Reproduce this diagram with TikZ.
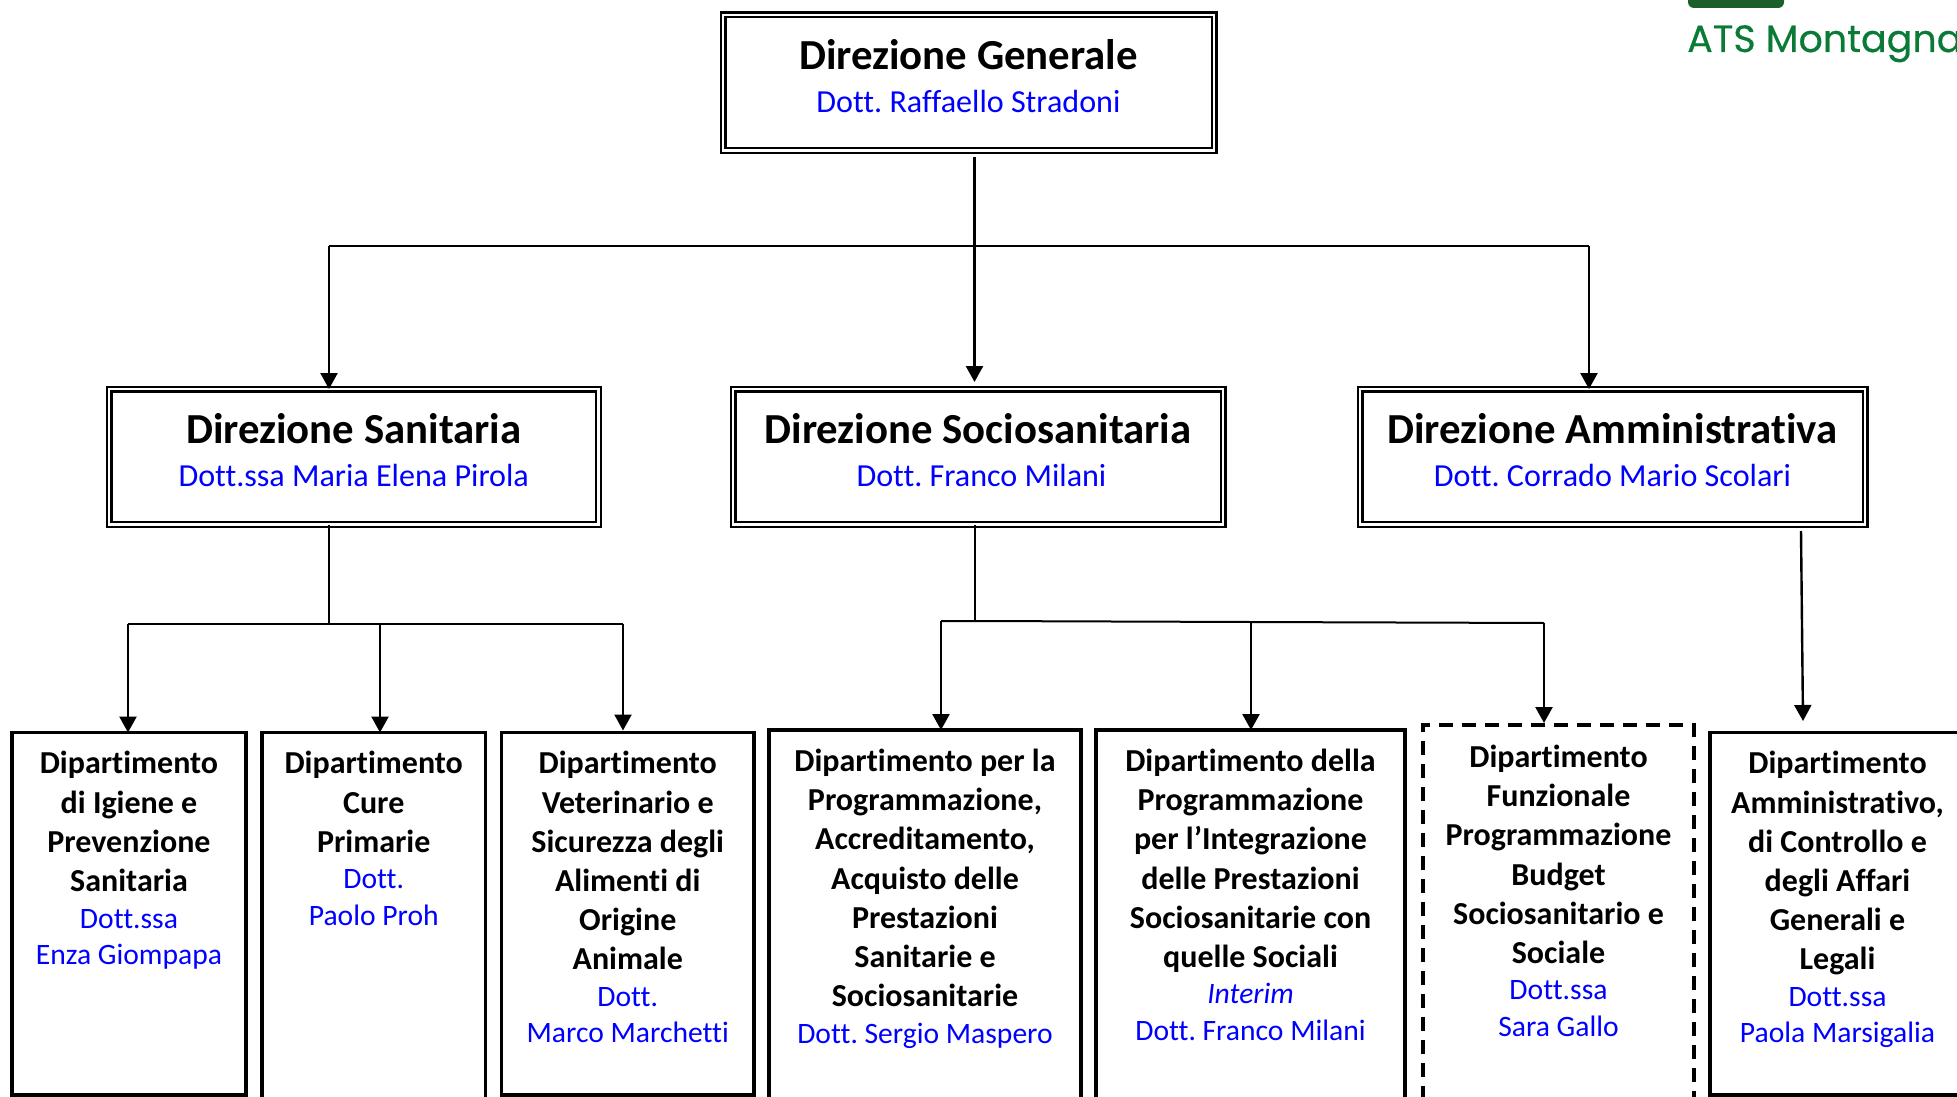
\documentclass[tikz,border=0pt]{standalone}
\usepackage{fontspec}
\setmainfont[Ligatures=NoCommon]{Carlito}
\usetikzlibrary{arrows.meta}
\definecolor{atsgreen}{HTML}{0B7A36}
\definecolor{logogreen}{HTML}{1A5E2C}
\newfontfamily\logofont[FakeBold=0.4]{Poppins}
\newcommand{\bk}[1]{{\fontsize{32}{39.2}\selectfont\bfseries #1\par}}
\newcommand{\nm}[1]{{\fontsize{29.6}{36.5}\selectfont\color{blue} #1\par}}
\newcommand{\tl}[1]{{\fontsize{42.8}{46}\selectfont\bfseries #1\par}}
\newcommand{\sbl}[1]{{\fontsize{32.1}{43}\selectfont\color{blue} #1\par}}
\newcommand{\bx}[8]{\node[#1] (#2) at ({(#3+#5)/2},{(#4+#6)/2})
  {\parbox[t][\dimexpr #6pt-#4pt\relax][t]{\dimexpr #5pt-#3pt\relax}{\frenchspacing\centering\vspace*{#7pt}#8}};}
\tikzset{
  dirbox/.style={draw=black,line width=2.4pt,double=white,double distance=2.2pt,inner sep=0pt,outer sep=0pt},
  deptbox/.style={draw=black,line width=3.8pt,inner sep=0pt,outer sep=0pt},
  dashbox/.style={draw=black,line width=3.6pt,dash pattern=on 14pt off 9pt,inner sep=0pt,outer sep=0pt},
  link/.style={draw=black,line width=2pt},
  trunk/.style={draw=black,line width=2.4pt},
  arr/.style={draw=black,line width=2.4pt,-{Triangle[length=16pt,width=17pt]}}
}
\begin{document}
\begin{tikzpicture}[x=1pt,y=-1pt]
\clip (0,0) rectangle (1957,1097);
\fill[white] (0,0) rectangle (1957,1097);
% logo
\fill[logogreen,rounded corners=6pt] (1688,-20) rectangle (1784,8);
\node[anchor=base west,inner sep=0pt,text=atsgreen,font=\logofont\fontsize{38}{44}\selectfont] (logo) at (1687,52) {ATS Montagna};
% directions
\bx{dirbox}{dg}{723}{15}{1214}{150.5}{24}{\tl{Direzione Generale}\sbl{Dott. Raffaello Stradoni}}
\bx{dirbox}{ds}{109}{389}{598.5}{524.5}{24}{\tl{Direzione Sanitaria}\sbl{Dott.ssa Maria Elena Pirola}}
\bx{dirbox}{dss}{733}{389}{1223}{524.5}{24}{\tl{Direzione Sociosanitaria}\sbl{\hspace*{7pt}Dott. Franco Milani}}
\bx{dirbox}{da}{1360}{389}{1865}{524.5}{24}{\tl{Direzione Amministrativa}\sbl{Dott. Corrado Mario Scolari}}
% departments
\bx{deptbox}{a}{12}{732.5}{246}{1095}{19}{\bk{Dipartimento}\bk{di Igiene e}\bk{Prevenzione}\bk{Sanitaria}\nm{Dott.ssa}\nm{Enza Giompapa}}
\bx{deptbox}{b}{262}{732.5}{485.5}{1110}{19}{\bk{Dipartimento}\bk{Cure}\bk{Primarie}\nm{Dott.}\nm{Paolo Proh}}
\bx{deptbox}{c}{501.5}{732.5}{754}{1095}{19}{\bk{Dipartimento}\bk{Veterinario e}\bk{Sicurezza degli}\bk{Alimenti di}\bk{Origine}\bk{Animale}\nm{Dott.}\nm{Marco Marchetti}}
\bx{deptbox}{d}{769}{730}{1081}{1110}{19}{\bk{Dipartimento per la}\bk{Programmazione,}\bk{Accreditamento,}\bk{Acquisto delle}\bk{Prestazioni}\bk{Sanitarie e}\bk{Sociosanitarie}\nm{Dott. Sergio Maspero}}
\bx{deptbox}{e}{1096}{730}{1405}{1110}{19}{\bk{Dipartimento della}\bk{Programmazione}\bk{per l’Integrazione}\bk{delle Prestazioni}\bk{Sociosanitarie con}\bk{quelle Sociali}\nm{\itshape Interim}\nm{Dott. Franco Milani}}
\bx{dashbox}{f}{1423}{725}{1694}{1110}{20}{\bk{Dipartimento}\bk{Funzionale}\bk{Programmazione}\bk{Budget}\bk{Sociosanitario e}\bk{Sociale}\nm{Dott.ssa}\nm{Sara Gallo}}
\bx{deptbox}{g}{1710}{732.5}{1965}{1095}{19}{\bk{Dipartimento}\bk{Amministrativo,}\bk{di Controllo e}\bk{degli Affari}\bk{Generali e}\bk{Legali}\nm{Dott.ssa}\nm{Paola Marsigalia}}
% junctions
\coordinate (dgout) at (974.5,157);
\coordinate (topbus) at (974.5,246);
\coordinate (topl) at (329,246);
\coordinate (topr) at (1589,246);
\coordinate (sanbus) at (329,624);
\coordinate (sanl) at (128,624);
\coordinate (sanm) at (380,624);
\coordinate (sanr) at (623,624);
\coordinate (socbus) at (974.5,621);
\coordinate (socl) at (941,621);
\coordinate (socm) at (1251,622);
\coordinate (socr) at (1544,623);
\coordinate (admout) at (1801,531);
\coordinate (admin) at (1803,721);
% connectors
\draw[trunk] (dgout) -- (topbus);
\draw[arr] (topbus) -- (974.5,382);
\draw[link] (topl) -- (topr);
\draw[arr] (topl) -- (ds.north -| topl);
\draw[arr] (topr) -- (da.north -| topr);
\draw[link] (ds.south -| sanbus) -- (sanbus);
\draw[link] (sanl) -- (sanr);
\draw[arr] (sanl) -- (a.north -| sanl);
\draw[arr] (sanm) -- (b.north -| sanm);
\draw[arr] (sanr) -- ([yshift=2pt]c.north -| sanr);
\draw[link] (dss.south -| socbus) -- (socbus);
\draw[link] (socl) -- (socbus) -- (socm) -- (socr);
\draw[arr] (socl) -- (d.north -| socl);
\draw[arr] (socm) -- (e.north -| socm);
\draw[arr] (socr) -- ([yshift=2pt]f.north -| socr);
\draw[arr] (admout) -- (admin);
\end{tikzpicture}
\end{document}
